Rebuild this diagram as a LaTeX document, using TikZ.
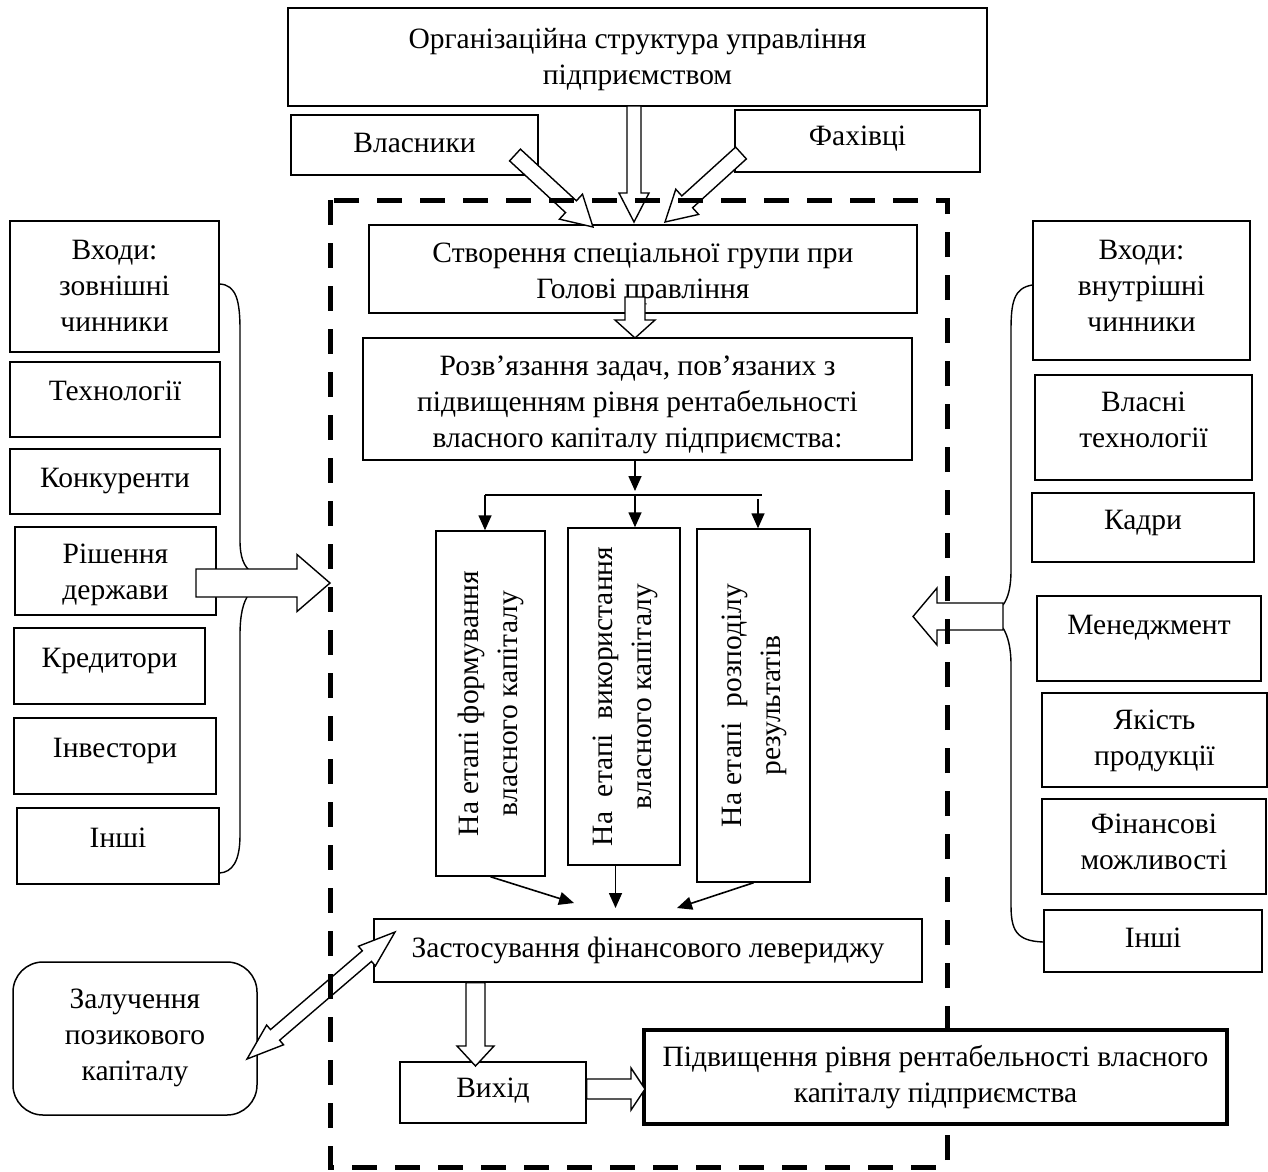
\documentclass[tikz,border=0pt]{standalone}
\usepackage{fontspec}
\setmainfont{Liberation Serif}
\usepackage{graphicx}
\usetikzlibrary{calc,arrows.meta}
\newcommand{\fsz}{\fontsize{29.5}{35}\selectfont}
\renewcommand{\arraystretch}{1.12}
% centred text block, moved up by #1 without changing its extents
\newcommand{\tx}[2]{\raisebox{#1}[\height][\depth]{\def\arraystretch{1.03}\begin{tabular}{@{}c@{}}#2\end{tabular}}}
% hollow single arrow: start, end, shaft half width, head half width, head length
\newcommand{\blkarrow}[5]{%
  \coordinate (sa-p) at ($(#2)!#5!(#1)$);
  \draw[hollow] ($(#1)!#3!90:(#2)$) -- ($(sa-p)!#3!90:(#2)$) -- ($(sa-p)!#4!90:(#2)$) -- (#2)
    -- ($(sa-p)!#4!-90:(#2)$) -- ($(sa-p)!#3!-90:(#2)$) -- ($(#1)!#3!-90:(#2)$) -- cycle;}
% hollow double-headed arrow
\newcommand{\dblarrow}[5]{%
  \coordinate (da-a) at ($(#1)!#5!(#2)$);
  \coordinate (da-b) at ($(#2)!#5!(#1)$);
  \draw[hollow] (#1) -- ($(da-a)!#4!90:(#2)$) -- ($(da-a)!#3!90:(#2)$) -- ($(da-b)!#3!-90:(#1)$)
   -- ($(da-b)!#4!-90:(#1)$) -- (#2) -- ($(da-b)!#4!90:(#1)$) -- ($(da-b)!#3!90:(#1)$)
   -- ($(da-a)!#3!-90:(#2)$) -- ($(da-a)!#4!-90:(#2)$) -- cycle;}
\begin{document}
\begin{tikzpicture}[x=1pt,y=-1pt, font=\fsz,
  box/.style={draw, line width=1.5pt, align=center, inner sep=2pt},
  hollow/.style={draw, fill=white, line width=1.4pt, line join=miter},
  arr/.style={line width=1.6pt, -{Triangle[length=15pt,width=13pt]}},
  brace/.style={line width=1.4pt}]
\useasboundingbox (0,0) rectangle (1268,1171);
\fill[white] (0,0) rectangle (1268,1171);

% top
\node[box, minimum width=699pt, minimum height=98pt] (top) at (637.5,57) {\tx{-2pt}{Організаційна структура управління\\підприємством}};
\node[box, minimum width=247pt, minimum height=60pt] (vlas) at (414.5,145) {\tx{0pt}{Власники}};
\node[box, minimum width=245pt, minimum height=62pt] (fah) at (857.5,141) {\tx{3pt}{Фахівці}};

% centre column
\node[box, minimum width=548pt, minimum height=88pt] (grp) at (643,269) {\tx{-4pt}{Створення спеціальної групи при\\Голові правління}};
\node[box, minimum width=549pt, minimum height=122pt] (tasks) at (637.5,399) {\tx{-5pt}{Розв’язання задач, пов’язаних з\\підвищенням рівня рентабельності\\власного капіталу підприємства:}};
\node[box, minimum width=109pt, minimum height=345pt] (v1) at (490.5,703.5) {\rotatebox{90}{\begin{tabular}{@{}c@{}}На етапі формування\\власного капіталу\end{tabular}}};
\node[box, minimum width=112pt, minimum height=337pt] (v2) at (624,696.5) {\rotatebox{90}{\begin{tabular}{@{}c@{}}На~ етапі~ використання\\власного капіталу\end{tabular}}};
\node[box, minimum width=113pt, minimum height=353pt] (v3) at (753.5,705.5) {\rotatebox{90}{\begin{tabular}{@{}c@{}}На етапі~ розподілу\\результатів\end{tabular}}};
\node[box, minimum width=548pt, minimum height=63pt] (zast) at (648,950.5) {\tx{0pt}{Застосування фінансового левериджу}};
\node[box, minimum width=186pt, minimum height=61pt] (vyh) at (493,1092.5) {\tx{2pt}{Вихід}};
\node[box, rounded corners=30pt, minimum width=244pt, minimum height=153pt] (zal) at (135,1038.5) {\tx{1pt}{Залучення\\позикового\\капіталу}};

% left column
\node[box, minimum width=209pt, minimum height=131pt] (L0) at (114.5,286.5) {\tx{-1.5pt}{Входи:\\зовнішні\\чинники}};
\node[box, minimum width=210pt, minimum height=75pt] (L1) at (115,399.5) {\tx{6.5pt}{Технології}};
\node[box, minimum width=210pt, minimum height=65pt] (L2) at (115,481.5) {\tx{1.5pt}{Конкуренти}};
\node[box, minimum width=201pt, minimum height=88pt] (L3) at (115.5,571) {\tx{-3.5pt}{Рішення\\держави}};
\node[box, minimum width=191pt, minimum height=76pt] (L4) at (109.5,666) {\tx{6pt}{Кредитори}};
\node[box, minimum width=202pt, minimum height=76pt] (L5) at (115,756) {\tx{6pt}{Інвестори}};
\node[box, minimum width=202pt, minimum height=76pt] (L6) at (118,846) {\tx{6pt}{Інші}};

% right column
\node[box, minimum width=217pt, minimum height=139pt] (R0) at (1141.5,290.5) {\tx{2.5pt}{Входи:\\внутрішні\\чинники}};
\node[box, minimum width=217pt, minimum height=105pt] (R1) at (1143.5,427.5) {\tx{5pt}{Власні\\технології}};
\node[box, minimum width=222pt, minimum height=69pt] (R2) at (1143,527.5) {\tx{5.5pt}{Кадри}};
\node[box, minimum width=224pt, minimum height=85pt] (R3) at (1149,638.5) {\tx{11.5pt}{Менеджмент}};
\node[box, minimum width=225pt, minimum height=94pt] (R4) at (1154.5,740) {\tx{0pt}{Якість\\продукції}};
\node[box, minimum width=224pt, minimum height=95pt] (R5) at (1154,846.5) {\tx{2pt}{Фінансові\\можливості}};
\node[box, minimum width=218pt, minimum height=62pt] (R6) at (1153,941) {\tx{1pt}{Інші}};

% braces
\draw[brace] (L0.east |- 0,284) .. controls (236,285) and (240,300) .. (240,330) -- (240,540)
  .. controls (240,558) and (244,566) .. (251,572);
\draw[brace] (249,594) .. controls (243,602) and (240,615) .. (240,635) -- (240,835)
  .. controls (240,862) and (232,872) .. (L6.east |- 0,873);
\draw[brace] (R0.west |- 0,285) .. controls (1014,288) and (1011,302) .. (1011,330) -- (1011,570)
  .. controls (1011,588) and (1008,598) .. (1003,605);
\draw[brace] (1003,628) .. controls (1008,636) and (1011,648) .. (1011,665) -- (1011,905)
  .. controls (1011,930) and (1016,941) .. (R6.west |- 0,942);

% hollow arrows
\coordinate (t1s) at (634,106);   \coordinate (t1e) at (634,222);
\coordinate (t2s) at (515,155);   \coordinate (t2e) at (593,227);
\coordinate (t3s) at (741,153);   \coordinate (t3e) at (665,222);
\blkarrow{t1s}{t1e}{7pt}{15pt}{29pt}
\blkarrow{t2s}{t2e}{8pt}{17pt}{30pt}
\blkarrow{t3s}{t3e}{8pt}{17pt}{30pt}
\coordinate (g1s) at (635,297);   \coordinate (g1e) at (635,338);
\blkarrow{g1s}{g1e}{10pt}{20pt}{18pt}
\coordinate (la1) at (196,583);   \coordinate (la2) at (330,583);
\blkarrow{la1}{la2}{14pt}{28.5pt}{33pt}
\coordinate (ra1) at (1003,616.5); \coordinate (ra2) at (913,616.5);
\blkarrow{ra1}{ra2}{13.5pt}{28.5pt}{24pt}
\coordinate (zv) at (475.5,1066);
\blkarrow{zv |- zast.south}{zv}{9.5pt}{18.5pt}{20pt}
\coordinate (d1) at (247,1059);   \coordinate (d2) at (395,932);
\dblarrow{d1}{d2}{7pt}{13pt}{37pt}

% small solid arrows
\coordinate (spm) at (635,491);
\coordinate (spl) at (485,495);
\coordinate (spr) at (762,495);
\coordinate (sr3) at (758,499);
\draw[arr] (tasks.south -| spm) -- (spm);
\draw[line width=1.6pt] (spl) -- (spr);
\draw[arr] (spl) -- (spl |- v1.north);
\draw[arr] (spm |- spl) -- (spm |- v2.north);
\draw[arr] (sr3) -- (sr3 |- v3.north);
\coordinate (zin1) at (574,903);
\coordinate (zin2) at (615.5,908);
\coordinate (zin3) at (677,908);
\draw[arr] (v1.south) -- (zin1);
\draw[arr] (zin2 |- v2.south) -- (zin2);
\draw[arr] (v3.south) -- (zin3);

% dashed frame
\draw[line width=5pt, dash pattern=on 25pt off 18pt] (330,200) rectangle (947,1167);

% result box (over the frame)
\node[box, line width=3.5pt, fill=white, minimum width=583pt, minimum height=94pt] (pid) at (935.5,1077) {\tx{0pt}{Підвищення рівня рентабельності власного\\капіталу підприємства}};
\coordinate (vp) at (645,1089);
\blkarrow{vp -| vyh.east}{vp}{10pt}{21pt}{14pt}
\end{tikzpicture}
\end{document}
